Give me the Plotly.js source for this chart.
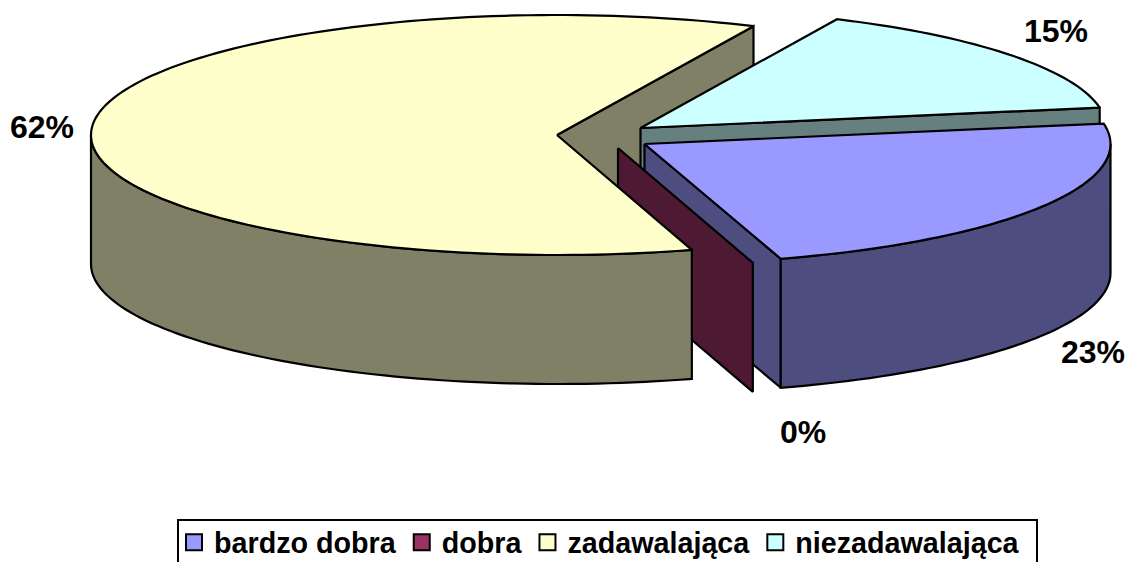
<!DOCTYPE html>
<html><head><meta charset="utf-8">
<script src="https://cdn.plot.ly/plotly-3.0.1.min.js"></script>
<style>html,body{margin:0;padding:0;background:#fff;overflow:hidden}#chart{width:1126px;height:562px}</style>
</head><body><div id="chart"></div>
<script>
// Data
const categories = ['bardzo dobra', 'dobra', 'zadawalająca', 'niezadawalająca'];
const shares = [23, 0.05, 61.6, 15.35];
// Styles
const topColors = ['#9999FF', '#993366', '#FFFFCC', '#CCFFFF'];
const sideColors = ['#4D4D80', '#4D1933', '#808066', '#668080'];
// Geometry of the projected pie, in pixels of the hidden axes
const RX = 466, RY = 120, DEPTH = 129, START_DEG = 9.8;
const centres = [[644.5, 144], [618, 148], [557, 135], [640.5, 128]];
const labelPos = [[1093, 352], [803, 432], [42, 127], [1056, 31]];
const LW = 2.2;

const total = shares.reduce((a, b) => a + b, 0);
const rad = d => d * Math.PI / 180;
// clockwise sweep from the start angle
let acc = START_DEG;
const slices = shares.map((v, i) => {
  const from = acc, to = acc - v / total * 360;
  acc = to;
  return {i, from, to, c: centres[i]};
});
const rim = (s, t, dz = 0) => [s.c[0] + RX * Math.cos(rad(t)), s.c[1] - RY * Math.sin(rad(t)) + dz];
const arc = (s, a, b, dz = 0) => {
  const n = Math.max(2, Math.ceil(Math.abs(b - a) / 1.5));
  const out = [];
  for (let k = 0; k <= n; k++) out.push(rim(s, a + (b - a) * k / n, dz));
  return out;
};
const poly = (pts, color, name) => ({
  type: 'scatter', mode: 'lines', x: pts.map(p => p[0]), y: pts.map(p => p[1]),
  fill: 'toself', fillcolor: color, line: {color: '#000', width: LW, simplify: false},
  hoverinfo: 'skip', showlegend: false, name: name
});
const closed = pts => pts.concat([pts[0]]);
const topFace = s => poly(closed([s.c].concat(arc(s, s.from, s.to))), topColors[s.i], categories[s.i]);
// flat cut face running from the centre to the rim at angle t
const cutFace = (s, t) => {
  const r = rim(s, t), b = rim(s, t, DEPTH);
  return poly(closed([s.c, r, b, [s.c[0], s.c[1] + DEPTH]]), sideColors[s.i], categories[s.i]);
};
// outer wall between two angles
const wall = (s, a, b) => {
  const up = arc(s, a, b), low = arc(s, b, a, DEPTH);
  return poly(closed(up.concat(low)), sideColors[s.i], categories[s.i]);
};
const [blue, maroon, yellow, cyan] = slices;

const traces = [
  cutFace(yellow, yellow.to),
  cutFace(cyan, cyan.to),
  topFace(cyan),
  cutFace(blue, blue.to),
  wall(blue, 0, blue.to),
  topFace(blue),
  cutFace(maroon, maroon.to),
  wall(yellow, -180, yellow.from),
  topFace(yellow)
];
// legend-only entries
categories.forEach((c, i) => traces.push({
  type: 'scatter', mode: 'markers', x: [null], y: [null], name: c, hoverinfo: 'skip',
  marker: {symbol: 'square', size: 20, color: topColors[i], line: {color: '#000', width: 2}}
}));

const layout = {
  width: 1126, height: 562, margin: {l: 0, r: 0, t: 0, b: 0, autoexpand: false},
  paper_bgcolor: '#fff', plot_bgcolor: '#fff',
  xaxis: {range: [0, 1126], visible: false, fixedrange: true},
  yaxis: {range: [562, 0], visible: false, fixedrange: true},
  showlegend: true,
  legend: {
    orientation: 'h', x: 174 / 1126, xanchor: 'left', y: 1 - 517 / 562, yanchor: 'top',
    bgcolor: 'rgba(0,0,0,0)', borderwidth: 0, itemsizing: 'trace', itemwidth: 30,
    traceorder: 'normal', font: {family: 'Liberation Sans, Arial, sans-serif', size: 28.7, color: '#000', weight: 700}
  },
  shapes: [{type: 'rect', xref: 'x', yref: 'y', x0: 178, x1: 1037, y0: 520, y1: 575,
    line: {color: '#000', width: 2}, fillcolor: 'rgba(0,0,0,0)', layer: 'below'}],
  annotations: shares.map((v, i) => ({
    x: labelPos[i][0], y: labelPos[i][1], xref: 'x', yref: 'y', showarrow: false,
    text: '<b>' + Math.round(v) + '%</b>',
    font: {family: 'Liberation Sans, Arial, sans-serif', size: 32, color: '#000'}
  }))
};
Plotly.newPlot('chart', traces, layout, {displayModeBar: false, staticPlot: true});
</script></body></html>
